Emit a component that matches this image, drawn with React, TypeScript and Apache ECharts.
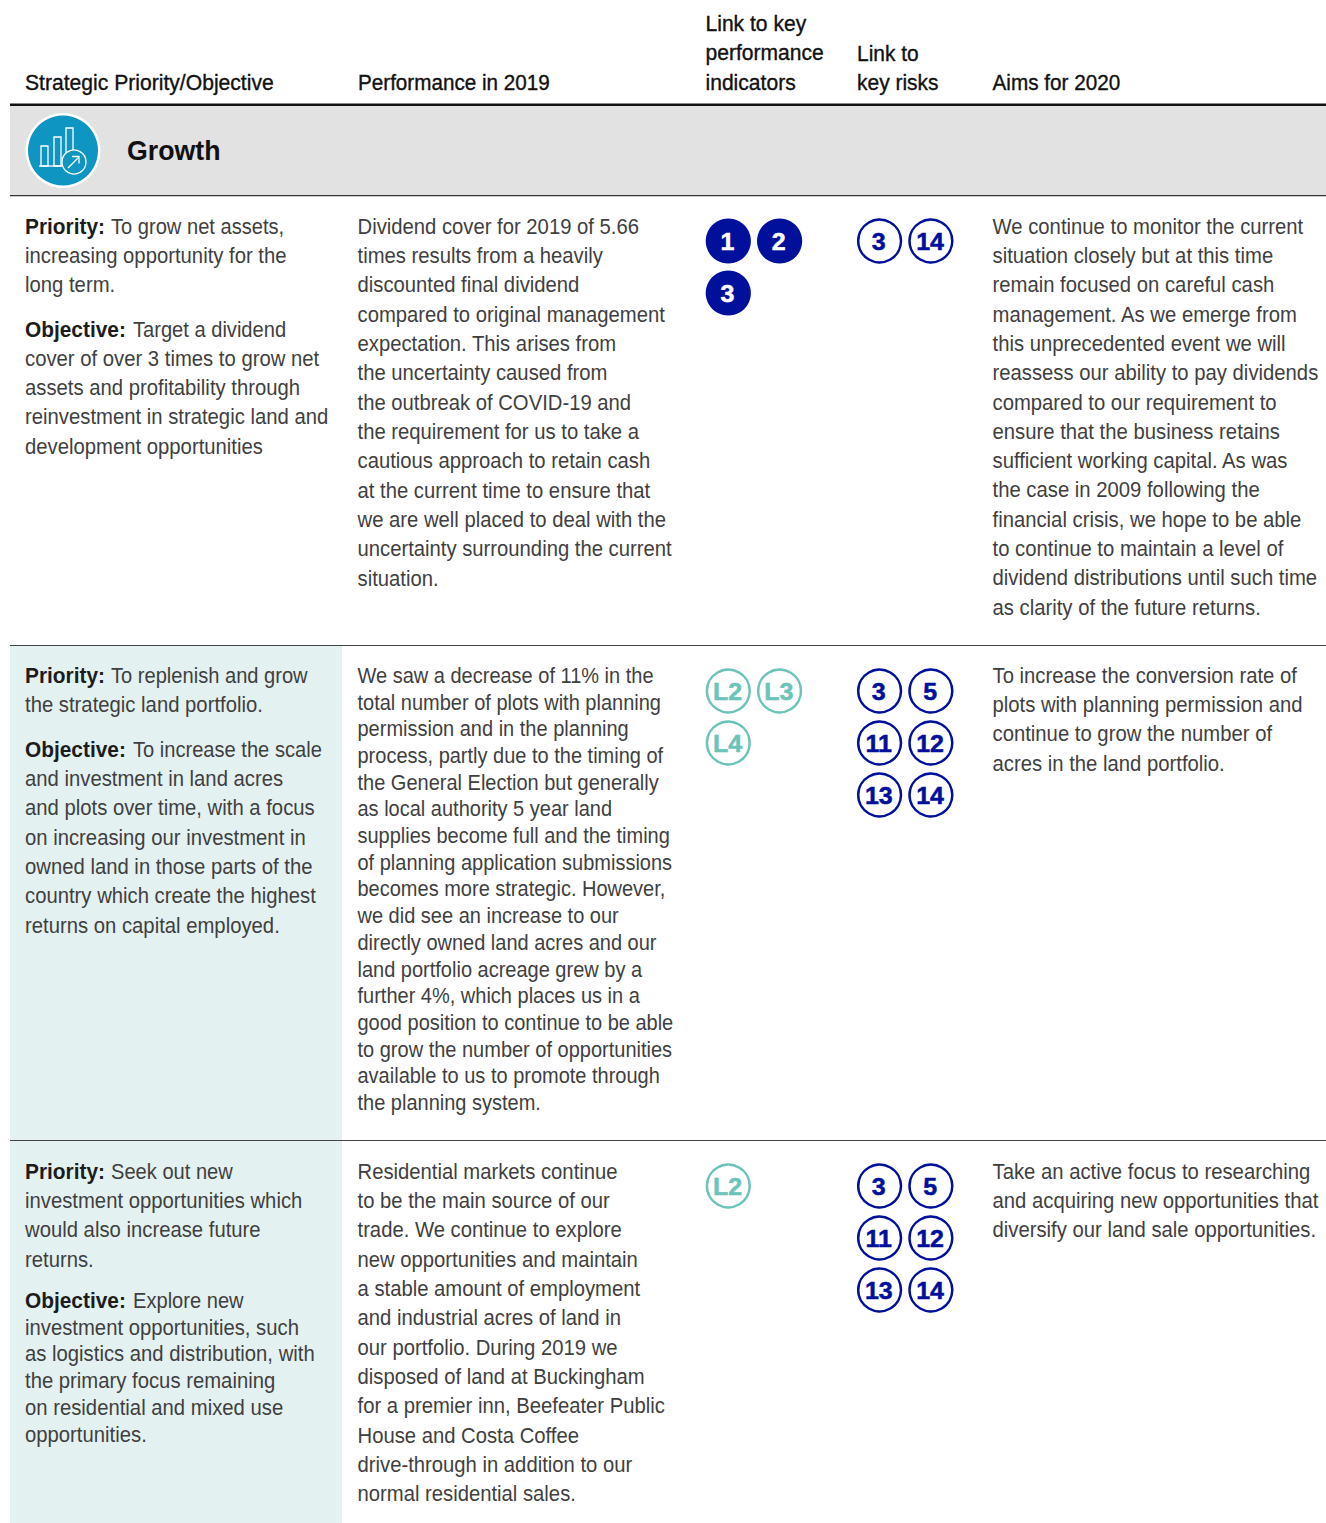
import React, { useEffect, useRef } from "react";
import * as echarts from "echarts";

const headers = [
  ["Strategic Priority/Objective"],
  ["Performance in 2019"],
  ["Link to key", "performance", "indicators"],
  ["Link to", "key risks"],
  ["Aims for 2020"],
];
const sectionTitle = "Growth";

const r1Priority = ["To grow net assets,", "increasing opportunity for the", "long term."];
const r1Objective = ["Target a dividend", "cover of over 3 times to grow net", "assets and profitability through", "reinvestment in strategic land and", "development opportunities"];
const r1Performance = ["Dividend cover for 2019 of 5.66", "times results from a heavily", "discounted final dividend", "compared to original management", "expectation. This arises from", "the uncertainty caused from", "the outbreak of COVID-19 and", "the requirement for us to take a", "cautious approach to retain cash", "at the current time to ensure that", "we are well placed to deal with the", "uncertainty surrounding the current", "situation."];
const r1Aims = ["We continue to monitor the current", "situation closely but at this time", "remain focused on careful cash", "management. As we emerge from", "this unprecedented event we will", "reassess our ability to pay dividends", "compared to our requirement to", "ensure that the business retains", "sufficient working capital. As was", "the case in 2009 following the", "financial crisis, we hope to be able", "to continue to maintain a level of", "dividend distributions until such time", "as clarity of the future returns."];
const r1Kpis = ["1", "2", "3"];
const r1Risks = ["3", "14"];

const r2Priority = ["To replenish and grow", "the strategic land portfolio."];
const r2Objective = ["To increase the scale", "and investment in land acres", "and plots over time, with a focus", "on increasing our investment in", "owned land in those parts of the", "country which create the highest", "returns on capital employed."];
const r2Performance = ["We saw a decrease of 11% in the", "total number of plots with planning", "permission and in the planning", "process, partly due to the timing of", "the General Election but generally", "as local authority 5 year land", "supplies become full and the timing", "of planning application submissions", "becomes more strategic. However,", "we did see an increase to our", "directly owned land acres and our", "land portfolio acreage grew by a", "further 4%, which places us in a", "good position to continue to be able", "to grow the number of opportunities", "available to us to promote through", "the planning system."];
const r2Aims = ["To increase the conversion rate of", "plots with planning permission and", "continue to grow the number of", "acres in the land portfolio."];
const r2Kpis = ["L2", "L3", "L4"];
const r2Risks = ["3", "5", "11", "12", "13", "14"];

const r3Priority = ["Seek out new", "investment opportunities which", "would also increase future", "returns."];
const r3Objective = ["Explore new", "investment opportunities, such", "as logistics and distribution, with", "the primary focus remaining", "on residential and mixed use", "opportunities."];
const r3Performance = ["Residential markets continue", "to be the main source of our", "trade. We continue to explore", "new opportunities and maintain", "a stable amount of employment", "and industrial acres of land in", "our portfolio. During 2019 we", "disposed of land at Buckingham", "for a premier inn, Beefeater Public", "House and Costa Coffee", "drive-through in addition to our", "normal residential sales."];
const r3Aims = ["Take an active focus to researching", "and acquiring new opportunities that", "diversify our land sale opportunities."];
const r3Kpis = ["L2"];
const r3Risks = ["3", "5", "11", "12", "13", "14"];

const FONT = '"Liberation Sans", Arial, sans-serif';
const BODY = "#3f3f3f";
const NAVY = "#00109b";
const TEAL = "#6cc3ba";
const FS = 21.4;
const SX = 0.948;
const LEAD_SX = 0.94;

function App() {
  const ref = useRef<HTMLDivElement>(null);
  useEffect(() => {
    document.body.style.margin = "0";
    const chart = echarts.init(ref.current!, undefined, { renderer: "svg" });
    const g: any[] = [];

    const rect = (x: number, y: number, w: number, h: number, fill: string) =>
      g.push({ type: "rect", shape: { x, y, width: w, height: h }, style: { fill } });

    const txt = (s: string, x: number, y: number, o: any = {}) =>
      g.push({
        type: "text", x, y, scaleX: o.scale ?? SX,
        style: {
          text: s, fill: o.fill || BODY, font: `${o.weight || 400} ${o.size || FS}px ${FONT}`,
          textAlign: o.align || "left", textVerticalAlign: "middle",
          ...(o.stroke ? { stroke: o.fill, lineWidth: o.stroke } : {}),
        },
      });

    const para = (lines: string[], x: number, y: number, step: number, scale = SX) =>
      lines.forEach((l, i) => txt(l, x, y - 0.9 + i * step, { scale }));

    const lead = (label: string, lines: string[], restX: number, y: number, step: number) => {
      txt(label, 25, y - 0.9, { fill: "#1c1c1c", weight: 700, scale: 0.975 });
      txt(lines[0], restX, y - 0.9, { scale: LEAD_SX });
      para(lines.slice(1), 25, y + step, step);
    };

    const badges = (labels: string[], x0: number, y0: number, filled: boolean, color: string) =>
      labels.forEach((l, i) => {
        const cx = x0 + (i % 2) * 51.3;
        const cy = y0 + Math.floor(i / 2) * 52;
        g.push({
          type: "circle", shape: { cx, cy, r: filled ? 22.6 : 21.4 },
          style: { fill: filled ? color : "#fff", stroke: filled ? "none" : color, lineWidth: filled ? 0 : 2.5 },
        });
        txt(l, cx - 0.8, cy + 0.4, { fill: filled ? "#fff" : color, weight: 700, size: 24, align: "center", scale: 1.04, stroke: 0.5 });
      });

    // backgrounds
    rect(10, 106, 1316, 89, "#e2e2e2");
    rect(10, 646, 332, 494, "#e4f1f1");
    rect(10, 1141, 332, 382, "#e4f1f1");
    rect(10, 103.5, 1316, 2.5, "#111");
    rect(10, 195, 1316, 1.3, "#333");
    rect(10, 645, 1316, 1, "#444");
    rect(10, 1140, 1316, 1, "#444");

    // header
    const hx = [25, 358, 705.5, 857, 992.5];
    const hScale = [0.987, 0.966, 0.985, 0.98, 0.968];
    headers.forEach((h, i) =>
      h.forEach((l, j) => txt(l, hx[i], 82.7 - (h.length - 1 - j) * 29.5, { fill: "#111", scale: hScale[i], stroke: 0.35 }))
    );

    // section icon
    g.push({ type: "circle", shape: { cx: 63, cy: 150.5, r: 37.5 }, style: { fill: "#fff" } });
    g.push({ type: "circle", shape: { cx: 63, cy: 150.5, r: 35 }, style: { fill: "#0e95c2" } });
    [[41, 146, 7, 20], [54, 137, 7, 29], [66, 128, 7, 38]].forEach(([x, y, w, h]) =>
      g.push({ type: "rect", shape: { x, y, width: w, height: h }, style: { fill: "none", stroke: "#fff", lineWidth: 1.3 } })
    );
    g.push({ type: "line", shape: { x1: 39, y1: 166, x2: 63, y2: 166 }, style: { stroke: "#fff", lineWidth: 1.3 } });
    g.push({ type: "circle", shape: { cx: 74, cy: 162, r: 12 }, style: { fill: "#0e95c2", stroke: "#fff", lineWidth: 1.3 } });
    g.push({ type: "line", shape: { x1: 68, y1: 168, x2: 79, y2: 157 }, style: { stroke: "#fff", lineWidth: 1.3 } });
    g.push({ type: "polyline", shape: { points: [[72, 156.5], [79, 156.5], [79, 163.5]] }, style: { fill: "none", stroke: "#fff", lineWidth: 1.3 } });
    txt(sectionTitle, 127, 151, { fill: "#111", weight: 700, size: 27, scale: 0.99 });

    const pX = 111;
    const oX = 133;
    const perfX = 357.5;
    const aimX = 992.5;

    // row 1
    lead("Priority:", r1Priority, pX, 227, 29);
    lead("Objective:", r1Objective, oX, 330, 29.2);
    para(r1Performance, perfX, 227, 29.33, 0.947);
    badges(r1Kpis, 728.3, 241, true, NAVY);
    badges(r1Risks, 879.6, 241, false, NAVY);
    para(r1Aims, aimX, 227, 29.3);

    // row 2
    lead("Priority:", r2Priority, pX, 676, 29);
    lead("Objective:", r2Objective, oX, 750, 29.3);
    para(r2Performance, perfX, 676, 26.7, 0.935);
    badges(r2Kpis, 728.3, 691, false, TEAL);
    badges(r2Risks, 879.6, 691, false, NAVY);
    para(r2Aims, aimX, 676, 29.3);

    // row 3
    lead("Priority:", r3Priority, pX, 1172, 29.3);
    lead("Objective:", r3Objective, oX, 1301, 26.8);
    para(r3Performance, perfX, 1172, 29.3, 0.947);
    badges(r3Kpis, 728.3, 1186, false, TEAL);
    badges(r3Risks, 879.6, 1186, false, NAVY);
    para(r3Aims, aimX, 1172, 29.3);

    chart.setOption({ animation: false, graphic: { elements: g } });
    return () => chart.dispose();
  }, []);
  return <div ref={ref} style={{ width: 1326, height: 1523 }} />;
}

export default App;
